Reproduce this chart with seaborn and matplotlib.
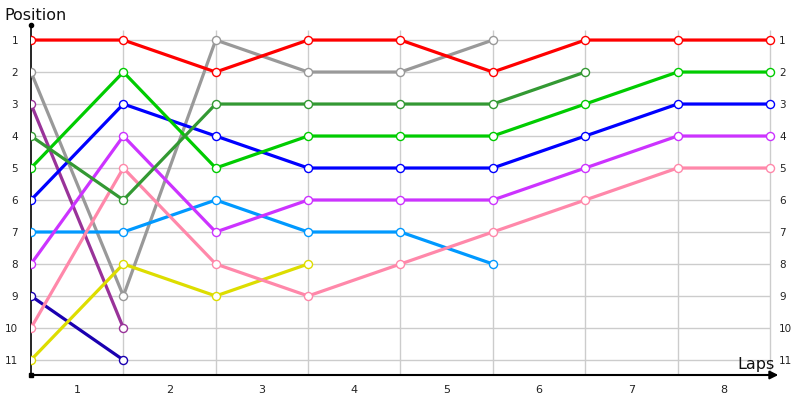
import matplotlib
matplotlib.use("Agg")
import matplotlib.pyplot as plt
import matplotlib.transforms as mtransforms
import seaborn as sns
import pandas as pd

sns.set_style("white")
plt.rcParams['font.family'] = ['DejaVu Sans']

laps = [1, 2, 3, 4, 5, 6, 7, 8]
positions = list(range(1, 12))

# position at each timing point (0 = start, then after each lap)
red        = [1, 1, 2, 1, 1, 2, 1, 1, 1]
gray       = [2, 9, 1, 2, 2, 1]
purple     = [3, 10]
darkgreen  = [4, 6, 3, 3, 3, 3, 2]
green      = [5, 2, 5, 4, 4, 4, 3, 2, 2]
blue       = [6, 3, 4, 5, 5, 5, 4, 3, 3]
lightblue  = [7, 7, 6, 7, 7, 8]
magenta    = [8, 4, 7, 6, 6, 6, 5, 4, 4]
navy       = [9, 11]
pink       = [10, 5, 8, 9, 8, 7, 6, 5, 5]
yellow     = [11, 8, 9, 8]

series = [
    ("gray", gray, "#999999"),
    ("purple", purple, "#993399"),
    ("navy", navy, "#1a00b0"),
    ("yellow", yellow, "#dddd00"),
    ("lightblue", lightblue, "#0099ff"),
    ("pink", pink, "#ff88aa"),
    ("magenta", magenta, "#cc33ff"),
    ("blue", blue, "#0000ff"),
    ("green", green, "#00cc00"),
    ("darkgreen", darkgreen, "#339933"),
    ("red", red, "#ff0000"),
]

fig = plt.figure(figsize=(8, 4), dpi=100)
left_px, unit = 31, (770 - 31) / 8
xmax = 8.1
ax = fig.add_axes([left_px / 800, 25 / 400, (xmax * unit) / 800, 350 / 400])

ax.set_xlim(0, xmax)
ax.set_ylim(11.47, 0.53)

# grid
ax.hlines(positions, 0, 8, color="#cccccc", lw=1, zorder=0)
ax.vlines(range(1, 9), 0.69, 11.47, color="#cccccc", lw=1, zorder=0)

for name, vals, col in series:
    df = pd.DataFrame({"t": list(range(len(vals))), "pos": vals})
    sns.lineplot(data=df, x="t", y="pos", ax=ax, color=col, lw=2.3, sort=False,
                 marker="o", markersize=5.8, markerfacecolor="white",
                 markeredgecolor=col, markeredgewidth=1.0, legend=False, zorder=3)

for s in ax.spines.values():
    s.set_visible(False)

# axes lines
ax.plot([0, 0], [11.47, 0.53], color="black", lw=1.2, clip_on=False, zorder=2)
ax.plot([0], [0.53], marker="o", color="black", markersize=3, clip_on=False, zorder=4)
ax.plot([0], [11.47], marker="s", color="black", markersize=2.5, clip_on=False, zorder=4)
ax.annotate("", xy=(8.09, 11.47), xytext=(0, 11.47),
            arrowprops=dict(arrowstyle="-|>", color="black", lw=1.5, mutation_scale=12,
                            shrinkA=0, shrinkB=0),
            annotation_clip=False, zorder=4)

ax.set_yticks(positions)
ax.set_yticklabels([str(p) for p in positions])
ax.set_xticks([l - 0.5 for l in laps])
ax.set_xticklabels([str(l) for l in laps])
ax.tick_params(axis="y", length=0, labelsize=7.5, labelleft=True, labelright=True,
               left=False, right=False, pad=0, colors="#222222")
ax.tick_params(axis="x", length=0, labelsize=8, pad=7, colors="#222222")
ax.set_xlabel("")
ax.set_ylabel("")

offset = mtransforms.ScaledTranslation(-13 / 100, 0, fig.dpi_scale_trans)
for t in ax.yaxis.get_major_ticks():
    t.label1.set_transform(t.label1.get_transform() + offset)

fig.text(4 / 800, 1 - 15 / 400, "Position", fontsize=11.5, ha="left", va="center", color="#111111")
fig.text(775 / 800, 1 - 365 / 400, "Laps", fontsize=11.5, ha="right", va="center", color="#111111")

fig.savefig("out.png", dpi=100)
